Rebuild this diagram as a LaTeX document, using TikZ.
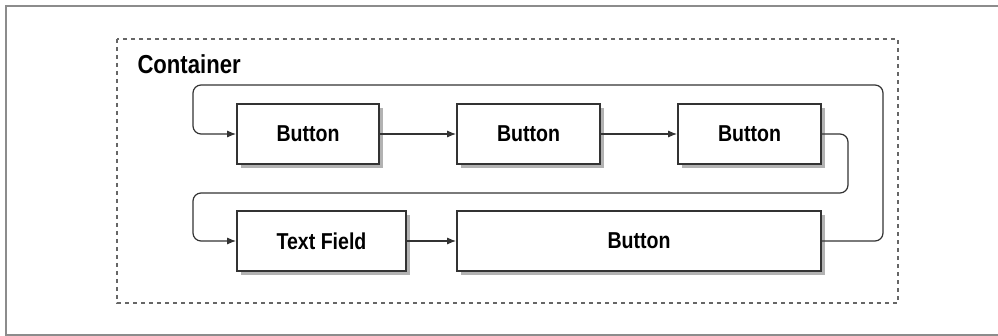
\documentclass[tikz,border=0pt]{standalone}
\usepackage{fontspec}
\setmainfont{Liberation Sans}[FakeStretch=0.85]
\usetikzlibrary{arrows.meta,shadows}

\begin{document}
\begin{tikzpicture}[
	x=1pt, y=-1pt,
	every node/.style={font=\fontsize{23}{26}\selectfont\bfseries},
	widget/.style={draw=black!80, line width=1.6pt, fill=white, minimum height=60pt,
		drop shadow={shadow xshift=4pt, shadow yshift=-4pt, fill=black, opacity=.3}},
	link/.style={draw=black!80, line width=1.2pt, -{Latex[length=9pt,width=7pt]}},
	loop/.style={link, rounded corners=8pt}
	]

	\useasboundingbox (0,0) rectangle (998,336);
	\draw[black!45, line width=1.6pt] (998,6) -- (6,6) -- (6,335) -- (998,335);

	\draw[black!60, line width=1.3pt, dash pattern=on 4pt off 4pt] (117,39) rectangle (898,303);
	\node[anchor=west, font=\fontsize{26}{28}\selectfont\bfseries] (container) at (134,64) {Container};

	\node[widget, minimum width=142pt] (b1) at (308,134) {Button};
	\node[widget, minimum width=143pt] (b2) at (528.5,134) {Button};
	\node[widget, minimum width=143pt] (b3) at (749.5,134) {Button};
	\node[widget, minimum width=169pt] (tf) at (321.5,241) {Text Field};
	\node[widget, minimum width=364pt] (bw) at (639,241) {Button};

	\coordinate (outer) at (883,85);
	\coordinate (inner) at (848,193);
	\coordinate (leftA) at (193,134);
	\coordinate (leftB) at (193,241);

	\draw[link] (b1) -- (b2);
	\draw[link] (b2) -- (b3);
	\draw[link] (tf) -- (bw);
	\draw[loop] (b3.east) -| (inner) -| (leftB) -- (tf.west);
	\draw[loop] (bw.east) -| (outer) -| (leftA) -- (b1.west);

\end{tikzpicture}
\end{document}
